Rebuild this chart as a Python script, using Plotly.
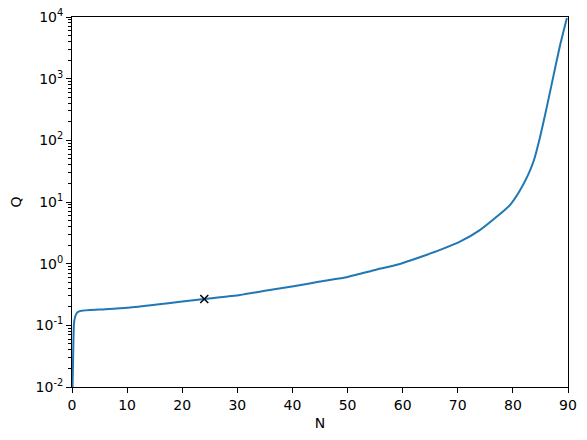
import plotly.graph_objects as go

# curve
n_vals = [0.1, 0.24, 0.36, 0.6, 0.85, 1.2, 1.75, 5, 10, 15, 20, 24, 30.5, 35, 40.2, 45,
          50, 55, 59.5, 63.1, 66.8, 70.4, 74, 77.1, 79.5, 81.3, 82.8, 83.8, 84.9, 86.1,
          87.3, 88.5, 89.8]
q_vals = [0.01, 0.045, 0.108, 0.14, 0.157, 0.167, 0.172, 0.18, 0.193, 0.216, 0.243,
          0.267, 0.31, 0.363, 0.43, 0.513, 0.61, 0.79, 0.99, 1.27, 1.67, 2.27, 3.5,
          5.8, 9.0, 15.5, 28, 47, 110, 330, 1050, 3300, 9600]

# marked point
mark_n = [24]
mark_q = [0.267]

x_ticks = [0, 10, 20, 30, 40, 50, 60, 70, 80, 90]
y_ticks = [0.01, 0.1, 1, 10, 100, 1000, 10000]
y_labels = ['10<sup>-2</sup>', '10<sup>-1</sup>', '10<sup>0</sup>', '10<sup>1</sup>',
            '10<sup>2</sup>', '10<sup>3</sup>', '10<sup>4</sup>']

fig = go.Figure()
fig.add_trace(go.Scatter(x=n_vals, y=q_vals, mode='lines',
                         line=dict(color='#1f77b4', width=2, shape='spline', smoothing=0.5)))
fig.add_trace(go.Scatter(x=mark_n, y=mark_q, mode='markers',
                         marker=dict(symbol='x-thin', size=8, line=dict(color='black', width=1.5))))

font = dict(family='DejaVu Sans', size=14, color='black')
axis_style = dict(showline=True, linecolor='black', linewidth=1, mirror=True,
                  ticks='outside', ticklen=5, tickwidth=1, tickcolor='black',
                  showgrid=False, zeroline=False, automargin=False, tickfont=font,
                  ticklabeloverflow='allow')

fig.update_xaxes(range=[0, 90], tickvals=x_ticks,
                 title=dict(text='N', font=font, standoff=6), **axis_style)
fig.update_yaxes(type='log', range=[-2, 4], tickvals=y_ticks, ticktext=y_labels,
                 minor=dict(ticks='outside', ticklen=3, tickwidth=1, tickcolor='black',
                            tickvals=[m * 10 ** e for e in range(-2, 4) for m in range(2, 10)]),
                 title=dict(text='Q', font=font, standoff=10), **axis_style)

fig.update_layout(width=587, height=440, showlegend=False,
                  plot_bgcolor='white', paper_bgcolor='white',
                  margin=dict(l=72, r=19, t=17, b=53))
# drop the default body margin so the figure sits at the window's corner
fig.write_html("out.html", config={'displayModeBar': False},
               post_script="document.body.style.margin='0';")
